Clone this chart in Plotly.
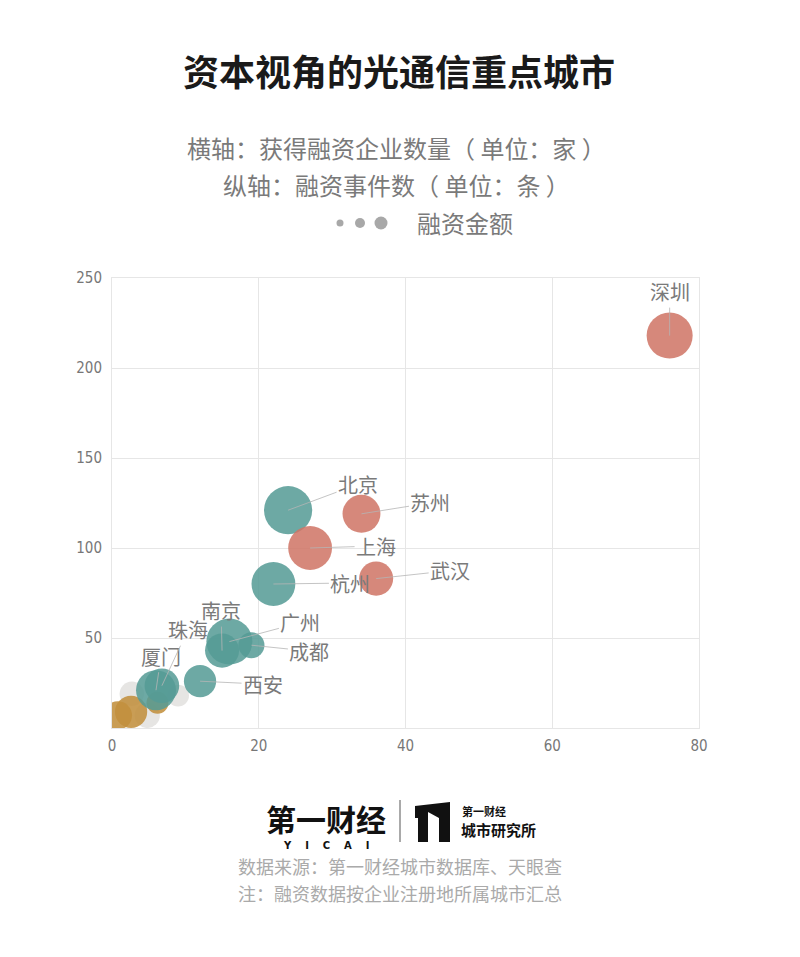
import plotly.graph_objects as go

# ---------------- data ----------------
cities   = ["深圳", "北京", "苏州", "上海", "武汉", "杭州", "广州", "南京", "成都", "西安", "厦门", "珠海"]
x_firms  = [76, 24, 34, 27, 36, 22, 16, 15, 19, 12, 6, 6.8]
y_events = [218, 121, 119, 100, 83, 80, 48, 43, 46, 26, 21, 23.5]
amount   = [53, 58, 36, 48, 29, 48, 53, 29, 17, 26, 40, 30]
group    = ["red", "teal", "red", "red", "red", "teal", "teal", "teal", "teal", "teal", "teal", "teal"]

other_x      = [2.7, 9.0, 4.8]
other_y      = [19, 18, 7]
other_amount = [15, 12, 16]

gold_x      = [2.6, 0.8, 6.2]
gold_y      = [9, 7, 14]
gold_amount = [26, 20, 12]

x_ticks = [0, 20, 40, 60, 80]
y_ticks = [50, 100, 150, 200, 250]

# label offsets (pixels) text relative to bubble
label_offsets = {
    "深圳": (0, -44), "北京": (70, -26), "苏州": (69, -11), "上海": (66, -2),
    "武汉": (74, -8), "杭州": (77, -1), "广州": (71, -19), "南京": (-1, -40),
    "成都": (58, 6), "西安": (63, 3), "厦门": (5, -34), "珠海": (26, -56),
}

COL = {"red": "rgba(207,116,101,0.86)", "teal": "rgba(85,155,149,0.86)",
       "gold": "rgba(193,143,61,0.88)", "grey": "rgba(226,224,222,0.85)"}
SIZEREF = 0.05
CJK = "Noto Sans CJK SC, Noto Sans, sans-serif"
NUM = "Liberation Sans Narrow, DejaVu Sans Condensed, Roboto Condensed, Roboto, sans-serif"

fig = go.Figure()

def add(xs, ys, amts, color, names):
    fig.add_trace(go.Scatter(
        x=xs, y=ys, mode="markers", text=names, hoverinfo="text",
        marker=dict(size=amts, sizemode="area", sizeref=SIZEREF, color=color,
                    opacity=1, line=dict(width=0)),
        showlegend=False))

add(other_x, other_y, other_amount, COL["grey"], ["其他"] * len(other_x))
add(gold_x, gold_y, gold_amount, COL["gold"], ["其他"] * len(gold_x))
for g in ["teal", "red"]:
    idx = [i for i, gg in enumerate(group) if gg == g]
    add([x_firms[i] for i in idx], [y_events[i] for i in idx],
        [amount[i] for i in idx], COL[g], [cities[i] for i in idx])

annotations = []
for i, c in enumerate(cities):
    ax, ay = label_offsets[c]
    annotations.append(dict(
        x=x_firms[i], y=y_events[i], xref="x", yref="y", text=c,
        showarrow=True, ax=ax, ay=ay, arrowhead=0, arrowwidth=0.8,
        arrowcolor="#b5b5b5", standoff=0,
        font=dict(family=CJK, size=20, color="#7a7a7a")))

L, R, T, B = 112, 699, 278, 728
def pxx(x): return (x - L) / (R - L)
def pyy(y): return (B - y) / (B - T)

def txt(x, y, s, size, color, weight="normal", family=CJK):
    annotations.append(dict(x=pxx(x), y=pyy(y), xref="paper", yref="paper",
                            text=s, showarrow=False, xanchor="center", yanchor="middle",
                            font=dict(family=family, size=size, color=color, weight=weight)))

txt(399, 70, "资本视角的光通信重点城市", 36, "#1a1a1a", "bold")
txt(396, 147, "横轴：获得融资企业数量（ 单位：家 ）", 24, "#7a7a7a")
txt(396, 185, "纵轴：融资事件数（ 单位：条 ）", 24, "#7a7a7a")
txt(465, 222, "融资金额", 24, "#7a7a7a")
txt(326, 818, "第一财经", 30, "#111111", "bold")
txt(326, 845, "Y&nbsp;&nbsp;&nbsp;&nbsp;I&nbsp;&nbsp;&nbsp;&nbsp;C&nbsp;&nbsp;&nbsp;&nbsp;A&nbsp;&nbsp;&nbsp;&nbsp;I", 10, "#111111", "bold", "DejaVu Sans, sans-serif")
annotations.append(dict(x=pxx(460), y=pyy(811), xref="paper", yref="paper", text="第一财经",
                        showarrow=False, xanchor="left", yanchor="middle",
                        font=dict(family=CJK, size=11, color="#111", weight="bold")))
annotations.append(dict(x=pxx(459), y=pyy(829), xref="paper", yref="paper", text="城市研究所",
                        showarrow=False, xanchor="left", yanchor="middle",
                        font=dict(family=CJK, size=15, color="#111", weight="bold")))
txt(400, 866, "数据来源：第一财经城市数据库、天眼查", 18, "#aaaaaa")
txt(400, 893, "注：融资数据按企业注册地所属城市汇总", 18, "#aaaaaa")

shapes = []
for cx, r in [(340, 3.5), (360, 5), (381, 6.5)]:
    shapes.append(dict(type="circle", xref="paper", yref="paper",
                       xsizemode="pixel", ysizemode="pixel",
                       xanchor=pxx(cx), yanchor=pyy(223),
                       x0=-r, x1=r, y0=-r, y1=r,
                       fillcolor="#a8a8a8", line=dict(width=0)))
# separator and logo icon
shapes.append(dict(type="line", xref="paper", yref="paper",
                   x0=pxx(400), x1=pxx(400), y0=pyy(800), y1=pyy(842),
                   line=dict(color="#555", width=1)))
icon = [(415, 806), (450, 802), (450, 842), (439, 842), (439, 818), (428, 812),
        (428, 842), (418, 842), (418, 818), (415, 818)]
path = "M " + " L ".join(f"{pxx(a):.5f},{pyy(b):.5f}" for a, b in icon) + " Z"
shapes.append(dict(type="path", xref="paper", yref="paper", path=path,
                   fillcolor="#111", line=dict(width=0)))

axis_common = dict(showgrid=True, gridcolor="#e6e6e6", gridwidth=1,
                   showline=True, linecolor="#e6e6e6", linewidth=1, mirror=True,
                   zeroline=False, ticks="", tickfont=dict(family=NUM, size=15, color="#777"))

fig.update_layout(
    width=800, height=957, paper_bgcolor="white", plot_bgcolor="white",
    margin=dict(l=L, r=800 - R, t=T, b=957 - B),
    xaxis=dict(range=[0, 80], tickvals=x_ticks, ticklabelstandoff=4, **axis_common),
    yaxis=dict(range=[0, 250], tickvals=y_ticks, ticklabelstandoff=6, **axis_common),
    annotations=annotations, shapes=shapes, showlegend=False,
)

fig.write_html("out.html")
